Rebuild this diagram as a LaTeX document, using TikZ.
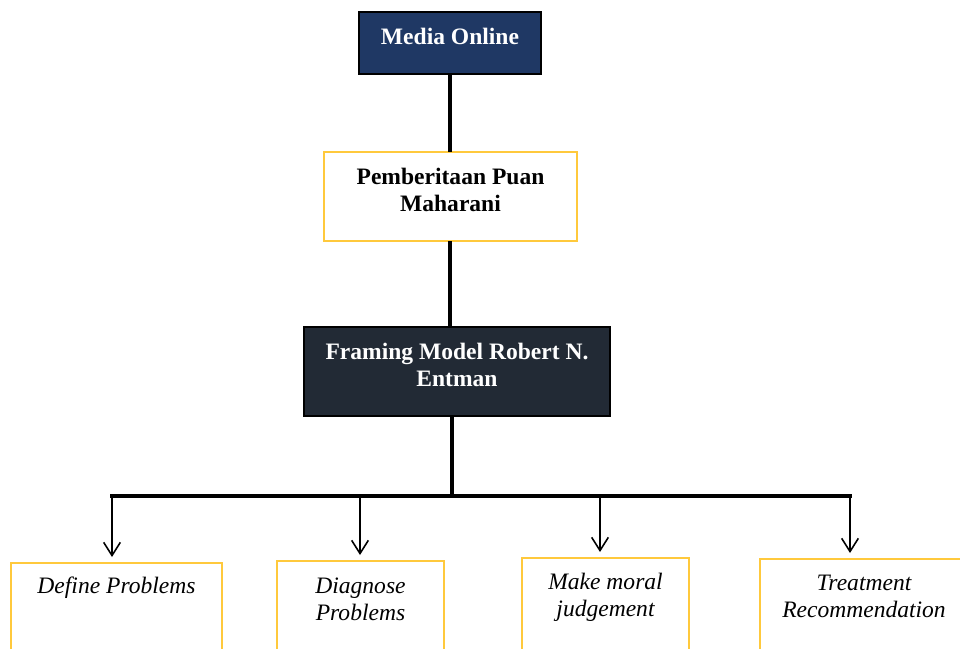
\documentclass[tikz,border=0pt]{standalone}
\usepackage{fontspec}
\setmainfont{Liberation Serif}
\usepackage{tikz}
\usetikzlibrary{calc, positioning, arrows.meta}
\definecolor{navyfill}{HTML}{1F3864}
\definecolor{darkfill}{HTML}{222A35}
\definecolor{goldline}{HTML}{FFC93C}
\tikzset{
	box/.style={rectangle, anchor=north, inner xsep=0pt, inner ysep=0pt, outer sep=0pt, align=center, font=\fontsize{13.4}{15.3}\selectfont},
	darkbox/.style={box, draw=black, line width=0.8pt, text=white, font=\fontsize{13.4}{15.3}\selectfont\bfseries},
	goldbox/.style={box, draw=goldline, line width=1.2pt, text=black},
	conn/.style={line width=1.9pt, black},
	arr/.style={line width=0.9pt, black, -{Straight Barb[length=7.5pt,width=9.5pt]}, shorten >=0.12cm}
}

\begin{document}
\begin{tikzpicture}
		
		\useasboundingbox (0,0) rectangle (19.2,-12.96);
		\clip (0,0) rectangle (19.2,-12.96);
		
		% Top boxes
		\node[darkbox, fill=navyfill, minimum width=3.64cm, text height=0.64cm, text depth=0.60cm] (media) at (9.0,-0.24) {Media Online};
		\node[goldbox, font=\fontsize{13.4}{15.3}\selectfont\bfseries, minimum width=5.06cm, text height=1.18cm, text depth=0.60cm] (puan) at (9.01,-3.04) {Pemberitaan Puan\\Maharani};
		\node[darkbox, fill=darkfill, minimum width=6.12cm, text height=1.18cm, text depth=0.60cm] (frame) at (9.14,-6.54) {Framing Model Robert N.\\Entman};
		
		% Bottom boxes
		\node[goldbox, font=\fontsize{13.4}{15.3}\selectfont\itshape, minimum width=4.22cm, text height=0.60cm, text depth=1.4cm] (define) at (2.33,-11.26) {Define Problems};
		\node[goldbox, font=\fontsize{13.4}{15.3}\selectfont\itshape, minimum width=3.34cm, text height=1.18cm, text depth=0.86cm] (diagnose) at (7.21,-11.22) {Diagnose\\Problems};
		\node[goldbox, font=\fontsize{13.4}{15.3}\selectfont\itshape, minimum width=3.34cm, text height=1.16cm, text depth=0.86cm] (moral) at (12.11,-11.16) {Make moral\\judgement};
		\node[goldbox, font=\fontsize{13.4}{15.3}\selectfont\itshape, minimum width=4.16cm, text height=1.16cm, text depth=0.86cm] (treat) at (17.28,-11.18) {Treatment\\Recommendation};
		
		% Bus points
		\coordinate (trunk) at (9.04,-9.92);
		\coordinate (b1) at (2.24,-9.92);
		\coordinate (b2) at (7.20,-9.92);
		\coordinate (b3) at (12.00,-9.92);
		\coordinate (b4) at (17.00,-9.92);
		
		% Connectors
		\draw[conn] (media.south) -- (media.south |- puan.north);
		\draw[conn] (media.south |- puan.south) -- (media.south |- frame.north);
		\draw[conn] (frame.south -| trunk) -- (trunk);
		\draw[conn, line cap=rect] (b1) -- (b4);
		
		% Arrows
		\draw[arr] (b1) -- (b1 |- define.north);
		\draw[arr] (b2) -- (b2 |- diagnose.north);
		\draw[arr] (b3) -- (b3 |- moral.north);
		\draw[arr] (b4) -- (b4 |- treat.north);
		
	\end{tikzpicture}
\end{document}
